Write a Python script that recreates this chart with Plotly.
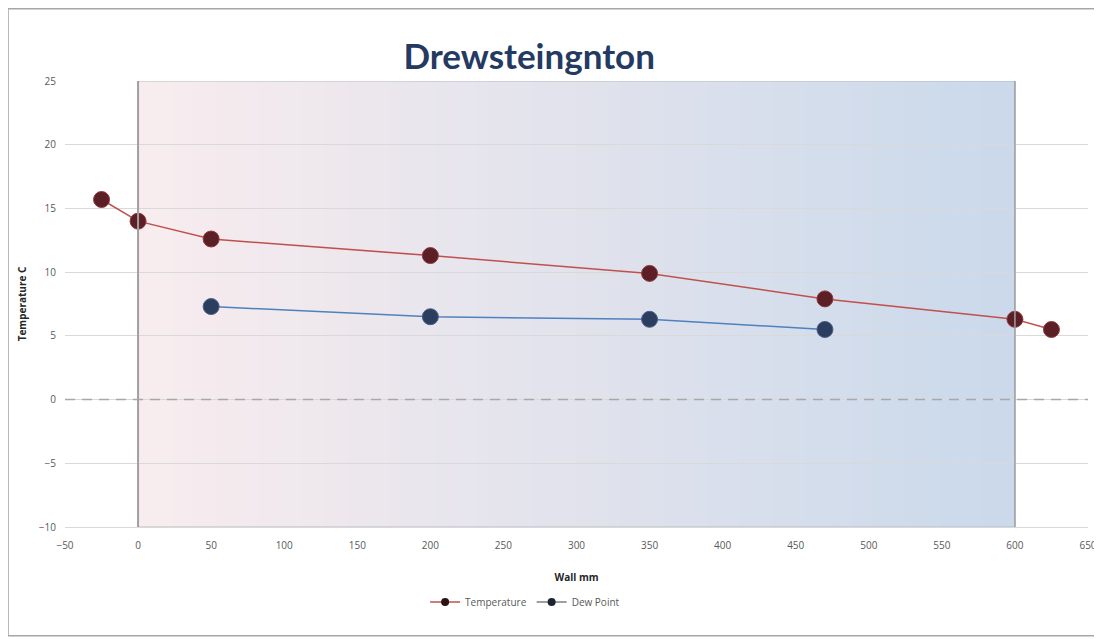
import plotly.graph_objects as go

# data
temp_x = [-25, 0, 50, 200, 350, 470, 600, 625]
temp_y = [15.7, 14.0, 12.6, 11.3, 9.9, 7.9, 6.3, 5.5]
dew_x = [50, 200, 350, 470]
dew_y = [7.3, 6.5, 6.3, 5.5]

wall_start = 0
wall_end = 600

temp_line = dict(color="#c0504d", width=1.5)
temp_fill = "#5b1f25"
dew_line = dict(color="#4f81bd", width=1.5)
dew_fill = "#2c3e60"

fig = go.Figure()

fig.add_trace(go.Scatter(
    x=temp_x, y=temp_y, mode="lines+markers", name="Temperature", showlegend=False,
    line=temp_line, marker=dict(size=16, color=temp_fill, line=dict(color="#8c3a3f", width=1)),
))
fig.add_trace(go.Scatter(
    x=dew_x, y=dew_y, mode="lines+markers", name="Dew Point", showlegend=False,
    line=dew_line, marker=dict(size=16, color=dew_fill, line=dict(color="#4a5f85", width=1)),
))
# legend entries with smaller symbols
fig.add_trace(go.Scatter(x=[None], y=[None], mode="lines+markers", name="Temperature",
                         line=temp_line, marker=dict(size=8, color="#2a1416")))
fig.add_trace(go.Scatter(x=[None], y=[None], mode="lines+markers", name="Dew Point",
                         line=dict(color="#7f7f7f", width=1.5), marker=dict(size=8, color="#1c2333")))

# gradient background over the wall section
c0 = (248, 236, 238)
c1 = (202, 217, 235)
n = 80
step = (wall_end - wall_start) / n
shapes = []
for i in range(n):
    t = i / (n - 1)
    col = tuple(round(c0[k] + (c1[k] - c0[k]) * t) for k in range(3))
    xa = wall_start + step * i
    xb = min(wall_end, xa + step * 1.6)
    shapes.append(dict(type="rect", xref="x", yref="y", x0=xa, x1=xb, y0=-10, y1=25,
                       fillcolor="rgb(%d,%d,%d)" % col, line=dict(width=0), layer="below"))
shapes.append(dict(type="rect", xref="x", yref="y", x0=wall_start, x1=wall_end, y0=-10, y1=25,
                   line=dict(color="#b8bcc4", width=1), layer="below"))
shapes.append(dict(type="line", xref="x", yref="y", x0=wall_start, x1=wall_start, y0=-10, y1=25,
                   line=dict(color="#a0a0a0", width=2)))
shapes.append(dict(type="line", xref="x", yref="y", x0=wall_end, x1=wall_end, y0=-10, y1=25,
                   line=dict(color="#a0a0a0", width=1.5)))
shapes.append(dict(type="line", xref="x", yref="y", x0=-50, x1=650, y0=0, y1=0,
                   line=dict(color="#a8a8a8", width=1.5, dash="10px,7px")))
# outer frame
shapes.append(dict(type="rect", xref="paper", yref="paper", x0=-0.0557, x1=1.0127, y0=-0.244, y1=1.162,
                   line=dict(color="#a6a6a6", width=1.5)))

fig.update_layout(
    width=1102, height=639,
    margin=dict(l=57, r=22, t=73, b=120, autoexpand=False),
    paper_bgcolor="white", plot_bgcolor="white",
    shapes=shapes,
    title=dict(text="<b>Drewsteingnton</b>", x=0.473, xanchor="center", y=0.923, yanchor="middle",
               font=dict(family="Lato, DejaVu Sans", size=35, color="#243a63")),
    showlegend=True,
    legend=dict(orientation="h", x=0.352, xanchor="left", y=-0.168, yanchor="middle",
                font=dict(family="Open Sans", size=10, color="#595959"), itemwidth=30),
    font=dict(family="Open Sans", color="#595959"),
)
fig.update_xaxes(
    range=[-50, 650], tickvals=list(range(-50, 651, 50)), showgrid=False, zeroline=False,
    tickfont=dict(size=10, color="#595959"), ticks="outside", ticklen=9, tickcolor="rgba(0,0,0,0)",
    title=dict(text="<b>Wall mm</b>", font=dict(size=10, color="#262626"), standoff=22),
    showline=True, linecolor="#d9d9d9", automargin=False,
)
fig.update_yaxes(
    range=[-10, 25], tickvals=list(range(-10, 26, 5)), showgrid=True, gridcolor="#d9d9d9",
    zeroline=False, tickfont=dict(size=10, color="#595959"),
    ticks="outside", ticklen=6, tickcolor="rgba(0,0,0,0)",
    title=dict(text="<b>Temperature C</b>", font=dict(size=10, color="#262626"), standoff=10),
    automargin=False,
)

fig.write_html("out.html")
